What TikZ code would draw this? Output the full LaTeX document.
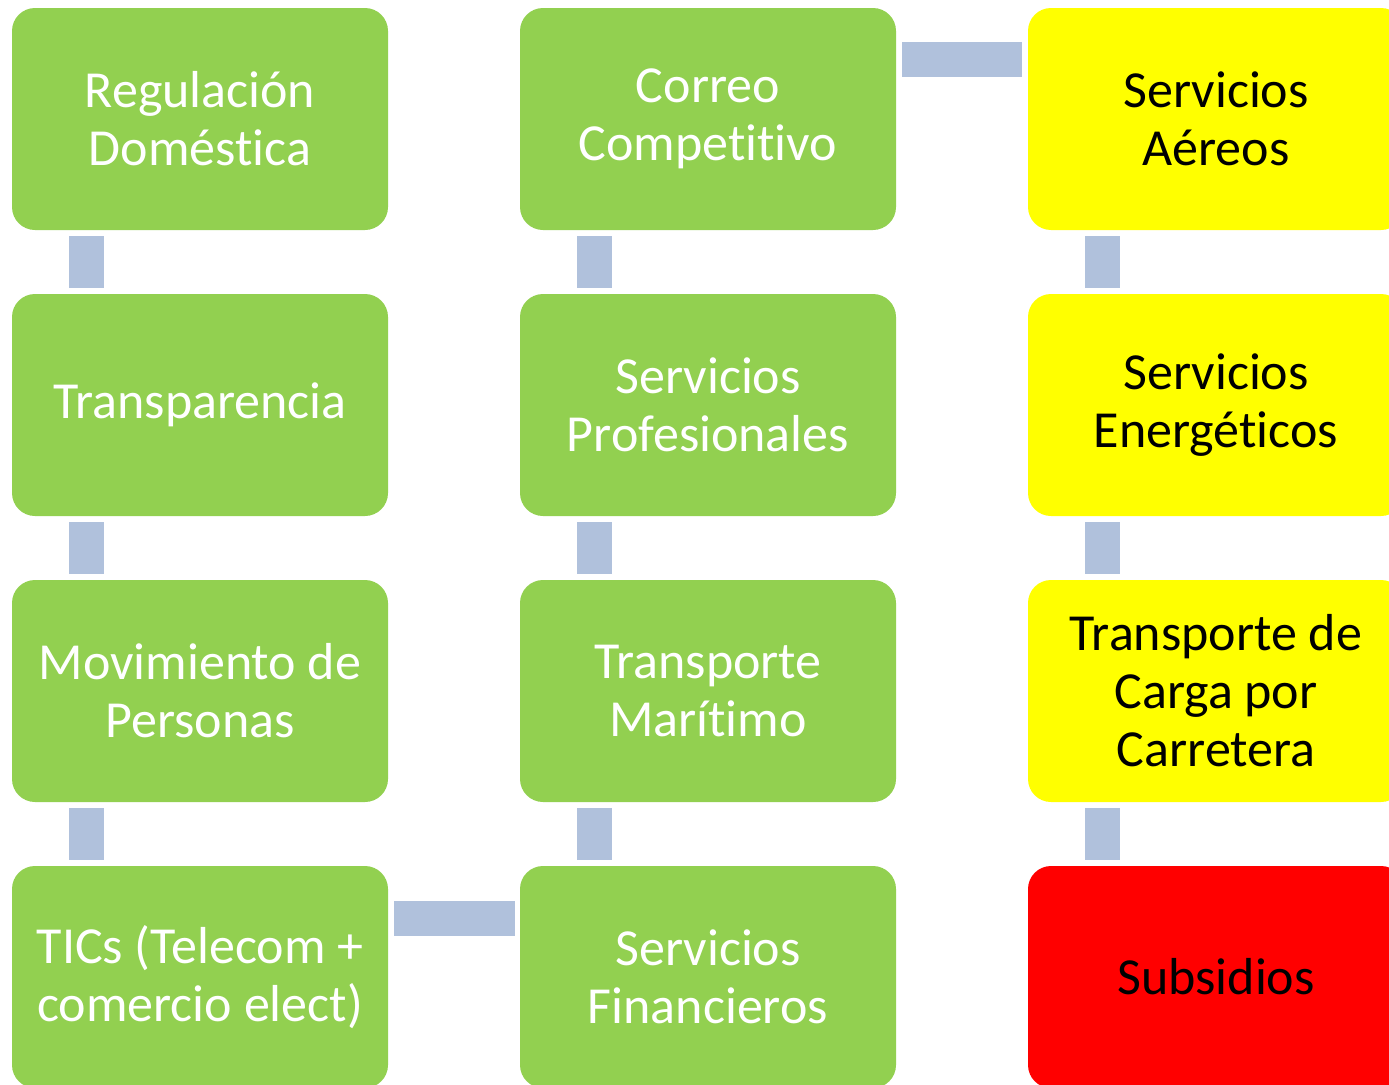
\documentclass[tikz,border=0pt]{standalone}
\usepackage{fontspec}
\setmainfont{Carlito}[RawFeature={-liga;-clig;-calt;-dlig;-rlig}]
\usetikzlibrary{calc}
\definecolor{boxgreen}{HTML}{92D050}
\definecolor{boxyellow}{HTML}{FFFF00}
\definecolor{boxred}{HTML}{FF0000}
\definecolor{barblue}{HTML}{B0C1DC}
\tikzset{
  box/.style={rounded corners=23pt, minimum width=376pt, minimum height=222pt,
    inner sep=0pt, align=center,
    font=\fontsize{52}{58}\selectfont},
  gbox/.style={box, fill=boxgreen, text=white},
  ybox/.style={box, fill=boxyellow, text=black},
  rbox/.style={box, fill=boxred, text=black},
  conn/.style={draw=barblue, line width=35pt, line cap=butt}
}
\begin{document}
\begin{tikzpicture}[x=1pt,y=-1pt]
\useasboundingbox (0,0) rectangle (1389,1084);
\clip (0,0) rectangle (1389,1084);
% column 1
\node[gbox] (a1) at (200,119) {Regulación\\Doméstica};
\node[gbox] (a2) at (200,405) {Transparencia};
\node[gbox] (a3) at (200,691) {Movimiento de\\Personas};
\node[gbox] (a4) at (200,977) {TICs (Telecom +\\comercio elect)};
% column 2
\node[gbox] (b1) at (708,119) {Correo\\Compet\kern0pt i\kern0pt t\kern0pt i\kern0pt vo};
\node[gbox] (b2) at (708,405) {Servicios\\Profesionales};
\node[gbox] (b3) at (708,691) {Transporte\\Marítimo};
\node[gbox] (b4) at (708,977) {Servicios\\Financieros};
% column 3
\node[ybox] (c1) at (1216,119) {Servicios\\Aéreos};
\node[ybox] (c2) at (1216,405) {Servicios\\Energéticos};
\node[ybox] (c3) at (1216,691) {Transporte de\\Carga por\\Carretera};
\node[rbox] (c4) at (1216,977) {Subsidios};
% vertical connectors
\foreach \u/\v in {a1/a2,a2/a3,a3/a4,b1/b2,b2/b3,b3/b4,c1/c2,c2/c3,c3/c4}{
  \draw[conn] ($(\u.south west)+(74.5,6)$) -- ($(\v.north west)+(74.5,-6)$);
}
% horizontal connectors
\draw[conn] ($(a4.north east)+(6,53)$) -- ($(b4.north west)+(-5,53)$);
\draw[conn] ($(b1.north east)+(6,52)$) -- ($(c1.north west)+(-6,52)$);
\end{tikzpicture}
\end{document}
